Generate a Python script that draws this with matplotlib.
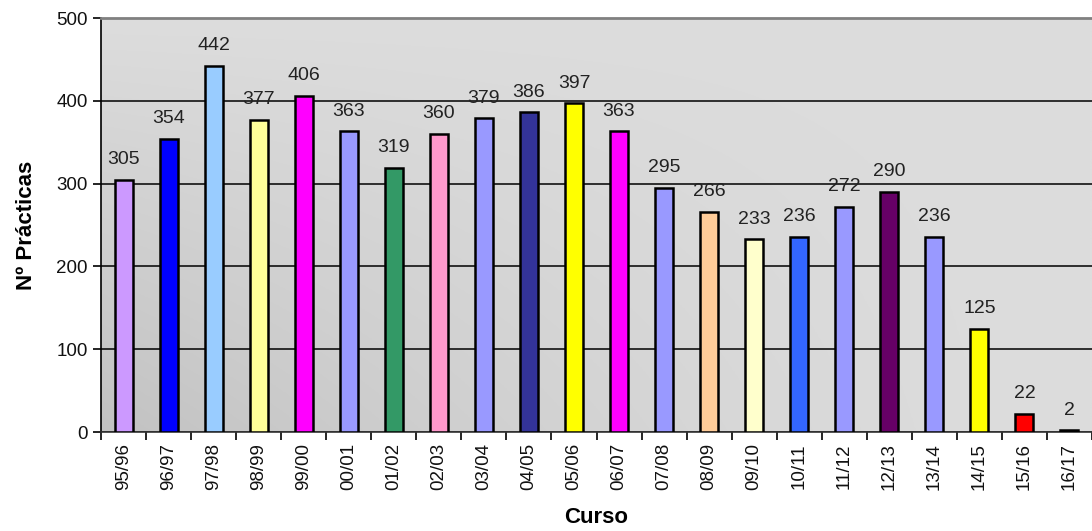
import numpy as np
import matplotlib.pyplot as plt

plt.rcParams['font.family'] = ['Liberation Sans', 'DejaVu Sans']

cursos = ['95/96', '96/97', '97/98', '98/99', '99/00', '00/01', '01/02', '02/03',
          '03/04', '04/05', '05/06', '06/07', '07/08', '08/09', '09/10', '10/11',
          '11/12', '12/13', '13/14', '14/15', '15/16', '16/17']
practicas = [305, 354, 442, 377, 406, 363, 319, 360, 379, 386, 397, 363,
             295, 266, 233, 236, 272, 290, 236, 125, 22, 2]
colores = ['#CC99FF', '#0000FF', '#99CCFF', '#FFFF99', '#FF00FF', '#9999FF',
           '#339966', '#FF99CC', '#9999FF', '#333399', '#FFFF00', '#FF00FF',
           '#9999FF', '#FFCC99', '#FFFFCC', '#3366FF', '#9999FF', '#660066',
           '#9999FF', '#FFFF00', '#FF0000', '#000000']

fig = plt.figure(figsize=(10.92, 5.31), dpi=100)
ax = fig.add_axes([0.0925, 0.1864, 0.9075, 0.7796])

# fondo degradado gris (mas oscuro abajo a la izquierda)
gx, gy = np.meshgrid(np.linspace(0, 1, 300), np.linspace(0, 1, 300))
gris = (221 - 27 * (1 - gx) ** 1.5 * (1 - gy)) / 255.0
img = np.dstack([gris, gris, gris])
ax.imshow(img, extent=[0, 1, 0, 1], transform=ax.transAxes, aspect='auto',
          zorder=0, origin='lower')

x = np.arange(len(cursos))
ax.bar(x, practicas, width=0.4, color=colores, edgecolor='black', linewidth=1.8, zorder=3)
for xi, v in zip(x, practicas):
    ax.text(xi, v + 14, str(v), ha='center', va='bottom', fontsize=14, color='#222222', zorder=4)

ax.set_xlim(-0.5, len(cursos) - 0.5)
ax.set_ylim(0, 500)
ax.set_yticks([0, 100, 200, 300, 400, 500])
ax.yaxis.grid(True, color='black', linewidth=1.1, zorder=1)
ax.set_axisbelow(True)

ax.set_xticks(x)
ax.set_xticklabels(cursos, rotation=90, fontsize=13.5, color='#111111')
ax.tick_params(axis='x', length=0, pad=8)
ax.set_xticks(np.arange(len(cursos) + 1) - 0.5, minor=True)
ax.tick_params(axis='x', which='minor', length=6, width=1.2, direction='out')
ax.tick_params(axis='y', labelsize=13.5, length=6, width=1.2, direction='out', labelcolor='#111111')

ax.spines['right'].set_visible(False)
ax.spines['top'].set_color('#808080')
ax.spines['top'].set_linewidth(2)
ax.spines['left'].set_linewidth(1.2)
ax.spines['bottom'].set_linewidth(1.2)
ax.spines['bottom'].set_color('#333333')

ax.set_xlabel('Curso', fontsize=16, fontweight='bold', labelpad=12)
ax.set_ylabel('Nº Prácticas', fontsize=16, fontweight='bold', labelpad=14)

plt.savefig('out.png', dpi=100)
